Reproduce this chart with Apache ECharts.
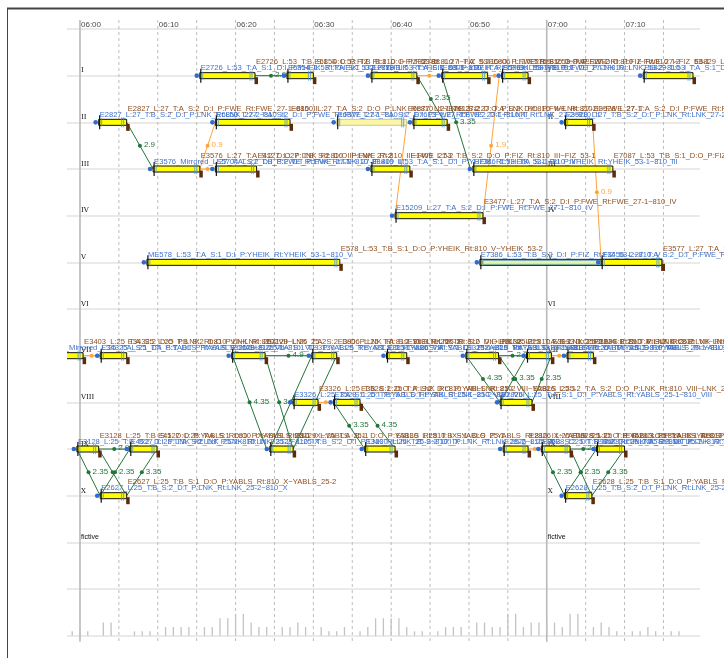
<!DOCTYPE html>
<html><head><meta charset="utf-8">
<script src="https://cdn.jsdelivr.net/npm/echarts@6/dist/echarts.min.js"></script>
<style>html,body{margin:0;padding:0;background:#fff}#c{width:724px;height:658px}</style>
</head><body><div id="c"></div>
<script>
// ---------- axis / rows ----------
const X_MIN = -1.67, X_MAX = 79.7;           // minutes from 06:00
const trackNames = ['I','II','III','IV','V','VI','VII','VIII','IX','X','fictive'];
const trackLabelHours = [0, 60];
const gridMinutes = [0,5,10,15,20,25,30,35,40,45,50,55,60,65,70,75];
const solidMinutes = [0,60];
const timeLabelMinutes = [0,10,20,30,40,50,60,70];
const timeLabels = ['06:00','06:10','06:20','06:30','06:40','06:50','07:00','07:10'];

// ---------- occupations (bars) ----------
const barTrack = [1,1,1,1,1,1, 2,2,2,2,2, 3,3,3,3, 4, 5,5,5,5, 7,7,7,7,7,7,7,7, 8,8,8, 9,9,9,9,9,9,9, 10,10];
const barStart = [15.4,26.6,37.4,46.5,54.2,72.4, 2.4,17.4,33.0,42.8,62.3, 9.4,17.4,37.4,50.5, 40.5, 8.6,51.4,51.8,67.0,
                  -4.9,2.6,19.5,29.8,39.4,49.6,57.4,62.6, 27.4,32.6,54.0, -0.4,6.4,24.4,36.6,54.4,59.3,66.4, 2.6,62.3];
const barEnd   = [22.5,30.0,43.3,52.4,57.6,78.8, 6.0,27.0,42.0,47.2,65.9, 15.4,22.7,42.4,68.5, 51.8, 33.4,74.8,67.0,74.8,
                  0.4,6.0,23.8,33.0,42.0,53.8,60.6,66.0, 30.6,36.0,58.1, 2.4,9.9,27.4,40.5,57.6,63.0,70.0, 6.0,65.8];
const barKind  = [0,0,0,0,0,0, 0,0,1,0,0, 0,0,0,0, 0, 0,0,2,0, 0,0,0,0,0,0,0,0, 0,0,0, 0,0,0,0,0,0,0, 0,0];
const arrLabel = [
 'E2726_L:53_T:A_S:1_D:I_P:YHEIK_Rt:YHEIK_53-1~810_I','E6854_L:53_T:A_S:1_D:I_P:YHEIK_Rt:YHEIK_53-1~810_I',
 'E2788_L:53_T:A_S:1_D:I_P:YHEIK_Rt:YHEIK_53-1~810_I','E8806_L:27_T:A_S:2_D:I_P:FWE_Rt:FWE_27-1~810_I',
 'E5769_L:53_T:B_S:1_D:I_P:LNK_Rt:LNK_53-2~810_I','E6829_L:53_T:A_S:1_D:I_P:YHEIK_Rt:YHEIK_53-1~810_I',
 'E2827_L:27_T:B_S:2_D:I_P:LNK_Rt:LNK_27-2~810_II','E6850_L:27_T:A_S:2_D:I_P:FWE_Rt:FWE_27-1~810_II',
 'E6877_L:27_T:A_S:2_D:I_P:FWE_Rt:FWE_27-1~810_II','E7613_L:27_T:B_S:2_D:I_P:LNK_Rt:LNK_27-2~810_II',
 'E3528_L:27_T:B_S:2_D:I_P:LNK_Rt:LNK_27-2~810_II',
 'E3576_Mirrored_L:27_T:A_S:2_D:I_P:FWE_Rt:FWE_27-1~810_III','E5704_L:27_T:B_S:2_D:I_P:LNK_Rt:LNK_27-2~810_III',
 'E1409_L:53_T:A_S:1_D:I_P:YHEIK_Rt:YHEIK_53-1~810_III','E7386_L:53_T:A_S:1_D:I_P:YHEIK_Rt:YHEIK_53-1~810_III',
 'E15209_L:27_T:A_S:2_D:I_P:FWE_Rt:FWE_27-1~810_IV',
 'ME578_L:53_T:A_S:1_D:I_P:YHEIK_Rt:YHEIK_53-1~810_V','E7386_L:53_T:B_S:2_D:I_P:FIZ_Rt:FIZ_53-2~810_V','',
 'E3456_L:27_T:A_S:2_D:I_P:FWE_Rt:FWE_27-1~810_V',
 'E3128_Mirrored_L:25_T:A_S:1_D:I_P:YABLS_Rt:YABLS_25-1~810_VII','E34325_L:25_T:A_S:1_D:I_P:YABLS_Rt:YABLS_25-1~810_VII',
 'E3129_L:25_T:A_S:1_D:I_P:YABLS_Rt:YABLS_25-1~810_VII','E3130_L:25_T:B_S:1_D:I_P:YABLS_Rt:YABLS_25-1~810_VII',
 'E3131_L:25_T:A_S:1_D:I_P:YABLS_Rt:YABLS_25-1~810_VII','E3132_L:25_T:A_S:1_D:I_P:YABLS_Rt:YABLS_25-1~810_VII',
 'E3133_L:25_T:B_S:1_D:I_P:YABLS_Rt:YABLS_25-1~810_VII','E3134_L:25_T:A_S:1_D:I_P:YABLS_Rt:YABLS_25-1~810_VII',
 'E3326_L:25_T:A_S:1_D:I_P:YABLS_Rt:YABLS_25-1~810_VIII','E3528_L:25_T:B_S:1_D:I_P:SIK_Rt:LNK_25-2~810_VIII',
 'E2826_L:25_T:A_S:1_D:I_P:YABLS_Rt:YABLS_25-1~810_VIII',
 'E3128_L:25_T:B_S:2_D:I_P:LNK_Rt:LNK_25-2~810_IX','E4527_L:25_T:A_S:2_D:I_P:LNK_Rt:LNK_25-2~810_IX',
 'E3129_L:25_T:B_S:2_D:I_P:LNK_Rt:LNK_25-2~810_IX','E3130_L:25_T:B_S:2_D:I_P:LNK_Rt:LNK_25-2~810_IX',
 'E2826_L:25_T:B_S:2_D:I_P:LNK_Rt:LNK_25-2~810_IX','E3628_L:25_T:B_S:2_D:I_P:LNK_Rt:LNK_25-2~810_IX',
 'E4528_L:25_T:A_S:2_D:I_P:LNK_Rt:LNK_25-2~810_IX',
 'E2627_L:25_T:B_S:2_D:I_P:LNK_Rt:LNK_25-2~810_X','E2628_L:25_T:B_S:2_D:I_P:LNK_Rt:LNK_25-2~810_X'];
const depLabel = [
 'E2726_L:53_T:B_S:1_D:O_P:FIZ_Rt:810_I~FIZ_53-1','E6854_L:53_T:B_S:1_D:O_P:FIZ_Rt:810_I~FIZ_53-1',
 'E2788_L:27_T:A_S:2_D:O_P:FWE_Rt:810_I~FWE_27-2','E6806_L:27_T:B_S:2_D:O_P:FWE_Rt:810_I~FWE_27-2',
 'E5769_L:53_T:A_S:1_D:O_P:FIZ_Rt:810_I~FIZ_53-1','E6829_L:53_T:B_S:1_D:O_P:FIZ_Rt:810_I~LNK_53',
 'E2827_L:27_T:A_S:2_D:I_P:FWE_Rt:FWE_27-1~810_II','E6850_L:27_T:A_S:2_D:O_P:LNK_Rt:810_II~LNK_27-2',
 'E6877_L:27_T:B_S:2_D:O_P:LNK_Rt:810_II~LNK_27-2','E7613_L:27_T:A_S:2_D:O_P:FWE_Rt:810_II~FWE_27-1',
 'E3528_L:27_T:A_S:2_D:I_P:FWE_Rt:FWE_27-1~810_II',
 'E3576_L:27_T:A_S:2_D:O_P:LNK_Rt:810_III~LNK_27-2','E4127_L:27_T:B_S:2_D:O_P:FWE_Rt:810_III~FWE_27-2',
 'E1409_L:53_T:B_S:2_D:O_P:FIZ_Rt:810_III~FIZ_53-1','E7087_L:53_T:B_S:1_D:O_P:FIZ_Rt:810_III~FIZ_53-1',
 'E3477_L:27_T:A_S:2_D:I_P:FWE_Rt:FWE_27-1~810_IV',
 'E578_L:53_T:B_S:1_D:O_P:YHEIK_Rt:810_V~YHEIK_53-2','E3577_L:27_T:A_S:2_D:O_P:FWE_Rt:810_V~FWE_27-2','','',
 'E3403_L:25_T:A_S:2_D:O_P:LNK_Rt:810_VII~LNK_25-2','E34325_L:25_T:B_S:2_D:O_P:LNK_Rt:810_VII~LNK_25-2',
 'E3129_L:25_T:A_S:2_D:O_P:LNK_Rt:810_VII~LNK_25-2','E3806_L:25_T:A_S:2_D:O_P:LNK_Rt:810_VII~LNK_25-2',
 'E3131_L:25_T:B_S:2_D:O_P:LNK_Rt:810_VII~LNK_25-2','E3132_L:25_T:A_S:2_D:O_P:LNK_Rt:810_VII~LNK_25-2',
 'E3133_L:25_T:B_S:2_D:O_P:LNK_Rt:810_VII~LNK_25-2','E3134_L:25_T:A_S:2_D:O_P:LNK_Rt:810_VII~LNK_25-2',
 'E3326_L:25_T:B_S:2_D:O_P:LNK_Rt:810_VIII~LNK_25-2','E3528_L:25_T:A_S:2_D:O_P:YABLS_Rt:810_VIII~YABLS_25-1',
 'E2826_L:25-2_T:A_S:2_D:O_P:LNK_Rt:810_VIII~LNK_25-2',
 'E3128_L:25_T:B_S:1_D:O_P:YABLS_Rt:810_IX~YABLS_25-1','E4527_L:25_T:A_S:1_D:O_P:YABLS_Rt:810_IX~YABLS_25-1',
 'E3129_L:25_T:A_S:1_D:O_P:YABLS_Rt:810_IX~YABLS_25-1','E3130_L:25_T:B_S:1_D:O_P:YABLS_Rt:810_IX~YABLS_25-1',
 'E2826_L:25_T:B_S:1_D:O_P:YABLS_Rt:810_IX~YABLS_25-1','E3628_L:25_T:B_S:1_D:O_P:YABLS_Rt:810_IX~YABLS_25-1',
 'E4528_L:25_T:A_S:1_D:O_P:YABLS_Rt:810_IX~YABLS_25-1',
 'E2627_L:25_T:B_S:1_D:O_P:YABLS_Rt:810_X~YABLS_25-2','E2628_L:25_T:B_S:1_D:O_P:YABLS_Rt:810_X~YABLS_25-2'];

// ---------- connections ----------
const linkFromM  = [22.5,6.0,43.3,46.5,19.6,23.8,29.8,33.0,32.6,36.0,49.6,53.8,57.4,60.6,23.8,53.8,2.4,63.0,-0.4,2.4,6.4,9.9,59.3,63.0,66.4,70.0,
                    15.4,15.4,43.3,52.4,42.0,51.8,65.9,30.6,0.4,60.6,57.6];
const linkFromTr = [1,2,1,1,7,7,7,7,8,8,7,7,7,7,7,7,9,9,9,9,9,9,9,9,9,9,
                    3,3,1,1,2,4,2,8,7,7,9];
const linkToM    = [26.6,9.4,46.9,50.2,24.0,27.4,24.4,27.4,36.6,40.5,54.0,58.1,54.0,58.1,29.8,57.4,6.4,66.4,2.6,6.0,2.6,6.0,62.3,65.8,62.3,65.8,
                    17.4,17.4,46.5,54.2,40.5,53.9,67.0,32.6,2.6,62.6,59.3];
const linkToTr   = [1,3,2,3,9,9,9,9,9,9,8,8,8,8,7,7,9,9,10,10,10,10,10,10,10,10,
                    2,3,1,1,4,1,5,8,7,7,9];
const linkLabel  = ['2.9','2.9','2.35','3.35','4.35','3.35','','','3.35','4.35','4.35','3.35','','2.35','4.9','2.9','2.9','2.9','2.35','','2.35','3.35','2.35','','2.35','3.35',
                    '0.9','','','','','1.9','0.9','','','',''];
const linkKind   = ['g','g','g','g','g','g','g','g','g','g','g','g','g','g','g','g','g','g','g','g','g','g','g','g','g','g',
                    'o','o','o','o','o','o','o','o','o','o','o'];

// ---------- per-minute count histogram ----------
const histMinute = [-1,0,1,3,4,7,8,9,11,12,13,14,16,17,18,19,20,21,22,23,24,26,27,28,29,31,32,33,34,36,37,38,39,40,41,42,43,44,46,47,48,49,51,52,53,54,55,56,57,58,59,60,61,62,63,64,66,67,68,69,71,72,73,74,76,77];
const histCount  = [1,1,1,3,3,1,1,1,2,2,2,2,2,2,4,4,5,5,3,2,2,2,2,3,2,2,1,1,2,1,2,4,4,4,4,2,1,1,1,2,2,2,3,3,2,2,5,5,2,3,3,3,3,2,5,5,2,3,2,1,1,1,2,1,1,1];

const FONT = '"Liberation Sans", Arial, sans-serif';
const BLUE_TXT = '#3f72cc', BROWN_TXT = '#8e4f22', GREEN = '#22763a', ORANGE = '#ffa43c';

const chart = echarts.init(document.getElementById('c'));

function leftClip(params) {
  return {type: 'rect', shape: {x: params.coordSys.x, y: 0, width: 2000, height: 2000}};
}

function renderBackground(params, api) {
  const m = api.value(0);
  const top = api.coord([m, 0]), bot = api.coord([m, 13]);
  const solid = solidMinutes.indexOf(m) >= 0;
  const ch = [{
    type: 'line', shape: {x1: top[0], y1: top[1] - 9, x2: bot[0], y2: bot[1] + 6},
    style: solid ? {stroke: '#b9b9b9', lineWidth: 1.6} : {stroke: '#bdbdbd', lineWidth: 1, lineDash: [3, 3]}
  }];
  const li = timeLabelMinutes.indexOf(m);
  if (li >= 0) ch.push({type: 'text', x: top[0] + 1, y: top[1] - 4,
    style: {text: timeLabels[li], fill: '#4a4a4a', fontSize: 8, fontFamily: FONT, align: 'left', verticalAlign: 'middle'}});
  return {type: 'group', children: ch};
}

function renderTrackLabel(params, api) {
  const r = api.value(0), h = api.value(1);
  const p = api.coord([h, r]);
  const name = trackNames[r - 1];
  return {type: 'text', x: p[0] + 1, y: p[1] - 5,
    style: {text: name, fill: '#111', fontSize: 7, fontFamily: name === 'fictive' ? FONT : '"DejaVu Serif", serif',
            align: 'left', verticalAlign: 'middle'}};
}

function renderBar(params, api) {
  const i = params.dataIndex;
  const tr = api.value(0), s = api.value(1), e = api.value(2), kind = api.value(3);
  const p0 = api.coord([s, tr]), p1 = api.coord([e, tr]);
  const x0 = p0[0], x1 = p1[0], y = p0[1];
  const ch = [];
  if (kind === 2) {
    ch.push({type: 'rect', shape: {x: x0, y: y - 2, width: x1 - x0, height: 4},
      style: {fill: '#e4f3b4', stroke: '#4f93c8', lineWidth: 0.8}});
    return {type: 'group', children: ch};
  }
  const pale = kind === 1;
  ch.push({type: 'circle', shape: {cx: x0 - 3, cy: y, r: 2.3}, style: {fill: '#2f6bd0'}});
  ch.push({type: 'rect', shape: {x: x0, y: y - 3, width: x1 - x0, height: 6},
    style: {fill: pale ? '#faf6a6' : '#ffff00', stroke: pale ? '#cfc89a' : '#111', lineWidth: 1}});
  ch.push({type: 'line', shape: {x1: x0 + 1, y1: y - 7, x2: x0 + 1, y2: y + 7}, style: {stroke: '#111', lineWidth: 1.2}});
  ch.push({type: 'line', shape: {x1: x0 + 3, y1: y - 4, x2: x0 + 3, y2: y + 4}, style: {stroke: '#4f8fe0', lineWidth: 0.8}});
  ch.push({type: 'line', shape: {x1: x1 - 5, y1: y - 5, x2: x1 - 5, y2: y + 5}, style: {stroke: '#4f8fe0', lineWidth: 0.8}});
  ch.push({type: 'line', shape: {x1: x1 - 3, y1: y - 5, x2: x1 - 3, y2: y + 5}, style: {stroke: '#4f8fe0', lineWidth: 0.8}});
  if (!pale) ch.push({type: 'rect', shape: {x: x1 - 0.5, y: y + 1.5, width: 3.5, height: 7}, style: {fill: '#5b2c0c'}});
  if (arrLabel[i]) ch.push({type: 'text', x: x0 + 1, y: y - 7.5,
    style: {text: arrLabel[i], fill: BLUE_TXT, fontSize: 7.6, fontFamily: FONT, align: 'left', verticalAlign: 'middle'}});
  if (depLabel[i]) ch.push({type: 'text', x: x1 + 1, y: y - 13.5,
    style: {text: depLabel[i], fill: BROWN_TXT, fontSize: 7.6, fontFamily: FONT, align: 'left', verticalAlign: 'middle'}});
  return {type: 'group', children: ch, clipPath: leftClip(params)};
}

function renderLink(params, api) {
  const i = params.dataIndex;
  const a = api.coord([api.value(0), api.value(1)]), b = api.coord([api.value(2), api.value(3)]);
  const col = linkKind[i] === 'g' ? GREEN : ORANGE;
  const mx = (a[0] + b[0]) / 2, my = (a[1] + b[1]) / 2;
  const ch = [
    {type: 'line', shape: {x1: a[0], y1: a[1], x2: b[0], y2: b[1]}, style: {stroke: col, lineWidth: 1}},
    {type: 'circle', shape: {cx: mx, cy: my, r: 2}, style: {fill: col}}
  ];
  if (linkLabel[i]) ch.push({type: 'text', x: mx + 4, y: my - 1,
    style: {text: linkLabel[i], fill: col, fontSize: 8, fontFamily: FONT, align: 'left', verticalAlign: 'middle'}});
  return {type: 'group', children: ch, clipPath: leftClip(params)};
}

const trackLabelData = [];
for (let r = 1; r <= trackNames.length; r++) for (const h of trackLabelHours) trackLabelData.push([r, h]);

chart.setOption({
  animation: false,
  graphic: [
    {type: 'rect', left: 7, top: 7.5, shape: {width: 717, height: 2}, style: {fill: '#454545'}},
    {type: 'rect', left: 7, top: 8, shape: {width: 1, height: 650}, style: {fill: '#454545'}}
  ],
  grid: [
    {left: 67, right: 24, top: 29, bottom: 22.3},
    {left: 67, right: 24, top: 592, bottom: 22.3}
  ],
  xAxis: [
    {type: 'value', gridIndex: 0, min: X_MIN, max: X_MAX, show: false},
    {type: 'value', gridIndex: 1, min: X_MIN, max: X_MAX, show: false}
  ],
  yAxis: [
    {type: 'value', gridIndex: 0, inverse: true, min: 0, max: 13, interval: 1,
     axisLine: {show: false}, axisTick: {show: false}, axisLabel: {show: false},
     splitLine: {show: true, lineStyle: {color: '#e3e3e3', width: 1.5}}},
    {type: 'value', gridIndex: 1, min: 0, max: 10, show: false}
  ],
  series: [
    {type: 'custom', xAxisIndex: 0, yAxisIndex: 0, z: 1, silent: true, renderItem: renderBackground,
     data: gridMinutes.map(m => [m])},
    {type: 'custom', xAxisIndex: 0, yAxisIndex: 0, z: 2, silent: true, renderItem: renderTrackLabel,
     data: trackLabelData},
    {type: 'custom', xAxisIndex: 0, yAxisIndex: 0, z: 3, silent: true, renderItem: renderLink,
     data: linkFromM.map((m, i) => [m, linkFromTr[i], linkToM[i], linkToTr[i]])},
    {type: 'custom', xAxisIndex: 0, yAxisIndex: 0, z: 4, silent: true, renderItem: renderBar,
     data: barStart.map((s, i) => [barTrack[i], s, barEnd[i], barKind[i]])},
    {type: 'bar', xAxisIndex: 1, yAxisIndex: 1, barWidth: 1.3, silent: true,
     itemStyle: {color: '#c3c3c3'}, data: histMinute.map((m, i) => [m, histCount[i]])}
  ]
});
</script>
</body></html>
